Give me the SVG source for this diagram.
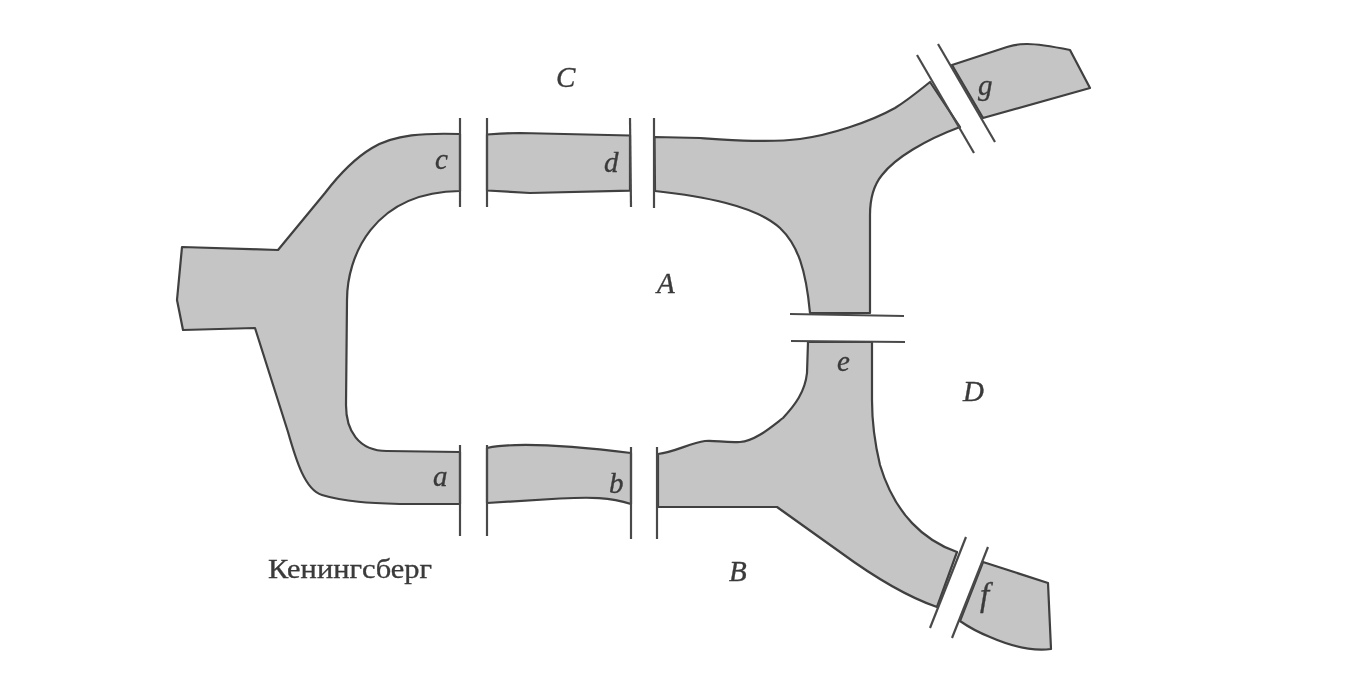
<svg xmlns="http://www.w3.org/2000/svg" width="1364" height="688" viewBox="0 0 1364 688">
<style>
.land{fill:#c5c5c5;stroke:#3f3f3f;stroke-width:2.2;stroke-linejoin:round}
.bridge{fill:none;stroke:#4a4a4a;stroke-width:2.2}
text{font-family:"Liberation Serif","Times New Roman",serif;fill:#3a3a3a;stroke:#3a3a3a;stroke-width:.35}
.l{font-style:italic;font-size:29px}
.t{font-size:28px}
</style>
<defs><filter id="soft" filterUnits="userSpaceOnUse" x="0" y="0" width="1364" height="688"><feGaussianBlur stdDeviation="0.5"/></filter></defs>
<rect width="1364" height="688" fill="#fff"/>
<g id="water" filter="url(#soft)">
<path class="land" d="M460,134 C425,133 395,134 372,148 C352,160 338,176 325,193 L278,250 L182,247 L177,300 L183,330 L255,328 L288,432 C296,460 305,490 322,495 C345,502 370,503 400,504 L460,504 L460,452 L387,451 C358,451 346,430 346,405 L347,300 C347,258 372,192 460,191 Z"/>
<path class="land" d="M487,134.5 C500,133.500 510,133 520,133 L630,135.5 L630,190.7 L530,193 L487,190.5 Z"/>
<path class="land" d="M487,448 C510,443 550,443 631,453 L631,504 C610,497 590,497 560,498.5 L487,503 Z"/>
<path class="land" d="M654.5,137 L700,138 C730,140 770,143 800,139 C830,135 870,122 895,108 C908,100 920,90 930,82 L960,127 C925,140 895,158 882,175 C873,186 870,198 870,215 L870,313 L810,313 C806,270 798,245 780,228 C755,205 700,196 655,191 Z"/>
<path class="land" d="M808,342 L807,373 C805,392 795,405 783,418 C770,428 755,441 740,442 C725,443 715,440 705,441 C690,443 675,452 658,454 L658,507 L777,507 L840,552 C870,574 905,596 937,607 L957,552 C925,541 895,515 880,465 C874,440 872,420 872,400 L872,342 Z"/>
<path class="land" d="M952,65 L1007,47 C1013,45 1020,44 1027,44 C1040,44 1055,47 1070,50 L1090,88 L983,118 Z"/>
<path class="land" d="M983,562 L1048,583 L1051,649 C1035,651 1015,648 990,637 C980,633 970,628 960,621 Z"/>
</g>
<g id="bridges" filter="url(#soft)">
<line class="bridge" x1="460" y1="118" x2="460" y2="207"/>
<line class="bridge" x1="487" y1="118" x2="487" y2="207"/>
<line class="bridge" x1="630" y1="118" x2="631" y2="207"/>
<line class="bridge" x1="654" y1="118" x2="654" y2="208"/>
<line class="bridge" x1="460" y1="445" x2="460" y2="536"/>
<line class="bridge" x1="487" y1="445" x2="487" y2="536"/>
<line class="bridge" x1="631" y1="447" x2="631" y2="539"/>
<line class="bridge" x1="657" y1="447" x2="657" y2="539"/>
<line class="bridge" x1="790" y1="314" x2="904" y2="316"/>
<line class="bridge" x1="791" y1="341" x2="905" y2="342"/>
<line class="bridge" x1="917" y1="55" x2="974" y2="153"/>
<line class="bridge" x1="938" y1="44" x2="995" y2="142"/>
<line class="bridge" x1="966" y1="537" x2="930" y2="628"/>
<line class="bridge" x1="988" y1="547" x2="952" y2="638"/>
</g>
<g id="labels" filter="url(#soft)">
<text class="l" x="556" y="87">C</text>
<text class="l" x="657" y="293">A</text>
<text class="l" x="729" y="581">B</text>
<text class="l" x="963" y="401">D</text>
<text class="l" x="435" y="169">c</text>
<text class="l" x="604" y="172">d</text>
<text class="l" x="433" y="486">a</text>
<text class="l" x="609" y="493">b</text>
<text class="l" x="837" y="371">e</text>
<text class="l" x="980" y="606" style="font-size:33px">f</text>
<text class="l" x="978" y="95">g</text>
<text class="t" x="268" y="578" textLength="164" lengthAdjust="spacingAndGlyphs">Кенингсберг</text>
</g>
</svg>
